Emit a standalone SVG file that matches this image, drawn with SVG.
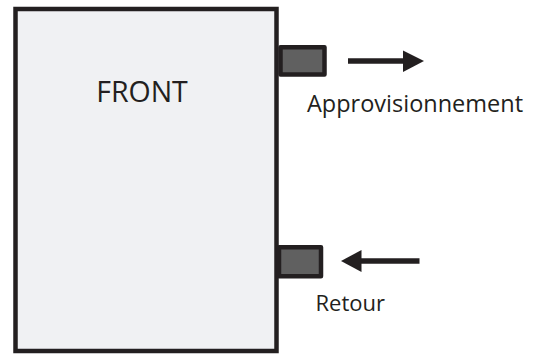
<svg xmlns="http://www.w3.org/2000/svg" width="546" height="354" viewBox="0 0 546 354">
  <style>
    .lbl { font-family: "Open Sans", "Liberation Sans", sans-serif; fill: #231f20; }
    .port { fill: #606060; stroke: #231f20; stroke-width: 4.5; stroke-linejoin: round; }
    .flow { stroke: #231f20; stroke-width: 5.5; fill: none; }
    .head { fill: #231f20; }
  </style>
  <rect width="546" height="354" fill="#ffffff"/>
  <g id="front">
    <rect x="15.5" y="9" width="261" height="342" fill="#f0f1f3" stroke="#231f20" stroke-width="4.5"/>
    <text class="lbl" x="142" y="102" font-size="28.5" text-anchor="middle">FRONT</text>
  </g>
  <g id="supply">
    <rect class="port" x="280.5" y="47.2" width="44" height="27.3"/>
    <text class="lbl" x="307" y="111.5" font-size="23.5">Approvisionnement</text>
  </g>
  <g id="return">
    <rect class="port" x="279" y="247.2" width="42" height="29"/>
    <text class="lbl" x="315.5" y="310.5" font-size="22">Retour</text>
  </g>
  <g id="connectors">
    <line class="flow" x1="348" y1="61" x2="406" y2="61"/>
    <polygon class="head" points="403,50.5 424,61 403,72"/>
    <line class="flow" x1="358" y1="261" x2="419.5" y2="261"/>
    <polygon class="head" points="361.5,250 341,261 361.5,272"/>
  </g>
</svg>
